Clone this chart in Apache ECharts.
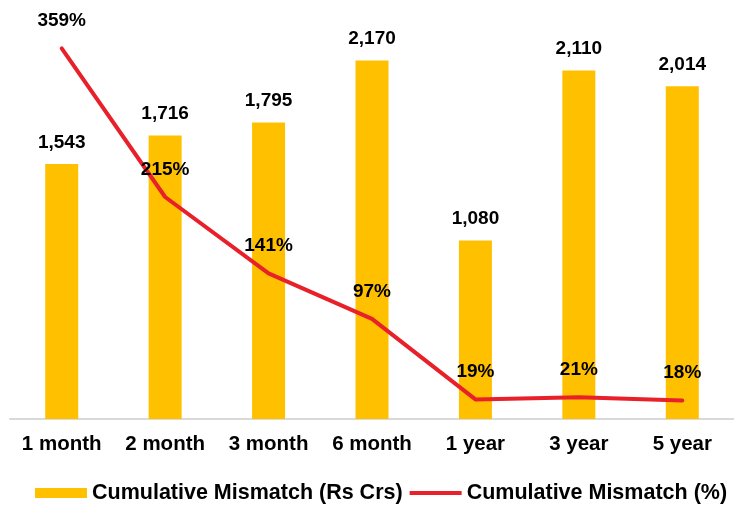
<!DOCTYPE html>
<html>
<head>
<meta charset="utf-8">
<script src="https://cdn.jsdelivr.net/npm/echarts@6/dist/echarts.min.js"></script>
<style>
  html, body { margin: 0; padding: 0; background: #fff; }
  #chart { width: 734px; height: 505px; }
</style>
</head>
<body>
<div id="chart"></div>
<script>
// Buckets and values
const categories = ['1 month', '2 month', '3 month', '6 month', '1 year', '3 year', '5 year'];
const mismatchRsCrs = [1543, 1716, 1795, 2170, 1080, 2110, 2014];
const mismatchPct = [359, 215, 141, 97, 19, 21, 18];

const FONT = '"Liberation Sans", Arial, sans-serif';
const RED = '#E8202A';
const GOLD = '#FFC000';
// Thin horizontal band inside a taller box, so the line key reads as a stroke
const LINE_ICON = 'path://M0,0 M0,3 L52,3 L52,7 L0,7 Z M52,10';

const chart = echarts.init(document.getElementById('chart'));

chart.setOption({
  animation: false,
  textStyle: { fontFamily: FONT },
  grid: { left: 10, right: -11, top: 6, bottom: 86 },
  legend: {
    top: 482,
    left: 35,
    width: 699,
    padding: 0,
    itemGap: 7,
    itemWidth: 52,
    itemHeight: 10,
    textStyle: { fontFamily: FONT, fontSize: 21.5, fontWeight: 'bold', color: '#000' },
    data: [
      { name: 'Cumulative Mismatch (Rs Crs)', icon: 'rect', itemStyle: { color: GOLD } },
      { name: 'Cumulative Mismatch (%)', icon: LINE_ICON, itemStyle: { color: RED } }
    ]
  },
  xAxis: {
    type: 'category',
    data: categories,
    axisTick: { show: false },
    axisLine: { lineStyle: { color: '#d9d9d9', width: 2 } },
    axisLabel: { interval: 0, fontFamily: FONT, fontSize: 20.5, fontWeight: 'bold', color: '#000', margin: 15 }
  },
  yAxis: [
    { type: 'value', min: 0, max: 2500, show: false, splitLine: { show: false } },
    { type: 'value', min: 0, max: 400, show: false, splitLine: { show: false } }
  ],
  series: [
    {
      name: 'Cumulative Mismatch (Rs Crs)',
      type: 'bar',
      data: mismatchRsCrs,
      barWidth: 33,
      itemStyle: { color: GOLD },
      label: {
        show: true,
        position: 'top',
        distance: 12,
        fontFamily: FONT,
        fontSize: 19,
        fontWeight: 'bold',
        color: '#000',
        formatter: p => p.value.toLocaleString('en-US')
      }
    },
    {
      name: 'Cumulative Mismatch (%)',
      type: 'line',
      yAxisIndex: 1,
      data: mismatchPct,
      symbol: 'circle',
      symbolSize: 2,
      lineStyle: { color: RED, width: 4, cap: 'round', join: 'round' },
      itemStyle: { color: RED },
      z: 5,
      label: {
        show: true,
        position: 'top',
        distance: 17,
        fontFamily: FONT,
        fontSize: 19,
        fontWeight: 'bold',
        color: '#000',
        formatter: p => p.value + '%'
      }
    }
  ]
});
</script>
</body>
</html>
